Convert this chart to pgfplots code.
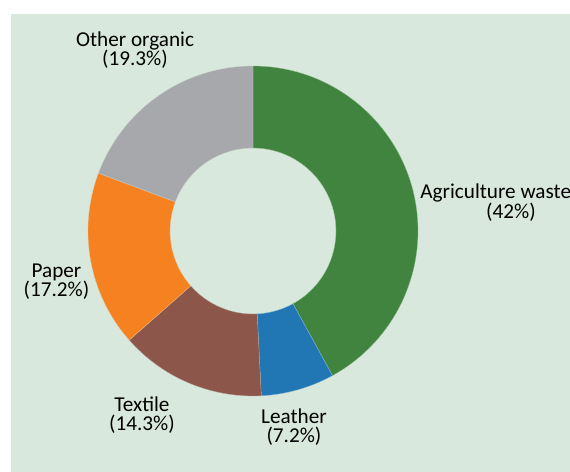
\documentclass[border=0pt]{standalone}
\usepackage{pgfplots}
\pgfplotsset{compat=1.18}
\usepackage{pgfplotstable}
\usepackage{fontspec}
\setmainfont{Carlito}

\definecolor{bg}{HTML}{D9E8DC}
\definecolor{c0}{HTML}{41843F}
\definecolor{c1}{HTML}{2077B4}
\definecolor{c2}{HTML}{8C564B}
\definecolor{c3}{HTML}{F68121}
\definecolor{c4}{HTML}{A7A8AB}

% shares in percent, clockwise from 12 o'clock
\pgfplotstableread{
share
42
7.2
14.3
17.2
19.3
}\shares

\begin{document}
\begin{tikzpicture}[every node/.style={font=\fontsize{10.6pt}{9.6pt}\selectfont, inner sep=0pt, text=black}]
\begin{axis}[
  scale only axis, width=285pt, height=236pt,
  xmin=0, xmax=570, ymin=0, ymax=472,
  hide axis, clip=false,
]
\fill[white] (0,0) rectangle (570,472);
\fill[bg] (11,0) rectangle (570,458);
\pgfplotsextra{
  \pgfplotstablegetrowsof{\shares}
  \pgfmathtruncatemacro\last{\pgfplotsretval-1}
  \gdef\cum{0}
  \foreach \i in {0,...,\last}{
    \pgfplotstablegetelem{\i}{share}\of\shares
    \let\val\pgfplotsretval
    \pgfmathsetmacro\a{90-3.6*\cum}
    \pgfmathsetmacro\b{90-3.6*(\cum+\val)}
    \pgfmathsetmacro\newcum{\cum+\val}
    \xdef\cum{\newcum}
    \fill[c\i, draw=bg!60!c\i, line width=0.15pt]
      ({253+165*cos(\a)},{241+165*sin(\a)})
      arc[start angle=\a, end angle=\b, radius=82.5pt]
      -- ({253+83*cos(\b)},{241+83*sin(\b)})
      arc[start angle=\b, end angle=\a, radius=41.5pt] -- cycle;
  }
}
% multi-line labels: anchor at the baseline of the last line
\node[anchor=base, align=center] at (135,406) {Other organic\\(19.3\%)};
\node[anchor=base west] at (420,273) {Agriculture waste};
\node[anchor=base] at (511,253.5) {(42\%)};
\node[anchor=base, align=center] at (56.5,175.5) {Paper\\(17.2\%)};
\node[anchor=base, align=center] at (142,41.5) {Textile\\(14.3\%)};
\node[anchor=base, align=center] at (294,29.5) {Leather\\(7.2\%)};
\end{axis}
\pgfresetboundingbox
\useasboundingbox (current axis.south west) rectangle (current axis.north east);
\end{tikzpicture}
\end{document}
